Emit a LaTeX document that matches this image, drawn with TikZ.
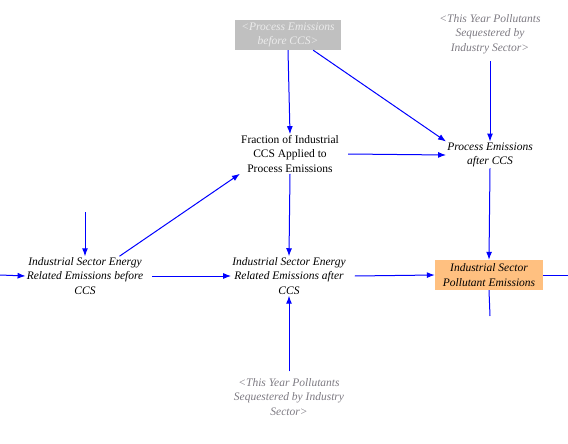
\documentclass[tikz,border=0pt]{standalone}
\usepackage{fontspec}
\setmainfont{Liberation Serif}
\usetikzlibrary{arrows.meta}
\definecolor{shadowfill}{RGB}{192,192,192}
\definecolor{shadowtext}{RGB}{236,236,236}
\definecolor{ghosttext}{RGB}{125,122,130}
\definecolor{levelfill}{RGB}{255,192,128}
\begin{document}
\begin{tikzpicture}[x=1pt, y=-1pt]
    % Define styles
    \tikzset{
        var/.style={align=center, font=\fontsize{11.5}{14.5}\selectfont, inner sep=1pt},
        ivar/.style={var, font=\fontsize{11.5}{14.5}\selectfont\itshape},
        ghost/.style={ivar, text=ghosttext},
        shadowbox/.style={ivar, fill=shadowfill, text=shadowtext, minimum width=106pt, minimum height=30pt},
        levelbox/.style={ivar, fill=levelfill, minimum width=108pt, minimum height=30pt},
        link/.style={blue, line width=1pt, -{Latex[length=8pt, width=6pt]}},
        stub/.style={blue, line width=1pt}
    }
    \useasboundingbox (0,0) rectangle (568,444);

    % Variables
    \node[shadowbox] (pebefore) at (288,35) {<Process Emissions\\before CCS>};
    \node[ghost] (seqtop) at (490,34) {<This Year Pollutants\\Sequestered by\\Industry Sector>};
    \node[var] (fraction) at (290,154) {Fraction of Industrial\\CCS Applied to\\Process Emissions};
    \node[ivar] (peafter) at (490,155) {Process Emissions\\after CCS};
    \node[ivar] (erbefore) at (85,276) {Industrial Sector Energy\\Related Emissions before\\CCS};
    \node[ivar] (erafter) at (289,276) {Industrial Sector Energy\\Related Emissions after\\CCS};
    \node[levelbox] (pollutant) at (489,275) {Industrial Sector\\Pollutant Emissions};
    \node[ghost] (seqbot) at (289,397) {<This Year Pollutants\\Sequestered by Industry\\Sector>};

    % Free ends
    \coordinate (inabove) at (85,212);
    \coordinate (inleft) at (0,275);
    \coordinate (outright) at (568,275);
    \coordinate (outbelow) at (490,316);

    % Links
    \draw[link] (pebefore.south) -- (fraction.north);
    \draw[link] (pebefore.south east) ++(-28,0) -- (peafter.north west);
    \draw[link] (seqtop.south) ++(0,6) -- (peafter.north);
    \draw[link] (fraction.east) ++(8,0) -- (peafter.west);
    \draw[link] (fraction.south) -- (erafter.north);
    \draw[link] (erbefore.north east) ++(-25,0) -- (fraction.south west);
    \draw[link] (erbefore.east) ++(8,0) -- (erafter.west);
    \draw[link] (peafter.south) -- (pollutant.north);
    \draw[link] (erafter.east) ++(8,0) -- (pollutant.west);
    \draw[link] (seqbot.north) ++(0,-6) -- (erafter.south);
    \draw[link] (inabove) -- (erbefore.north);
    \draw[link] (inleft) -- (erbefore.west);
    \draw[stub] (pollutant.east) -- (outright);
    \draw[stub] (pollutant.south) -- (outbelow);
\end{tikzpicture}
\end{document}
